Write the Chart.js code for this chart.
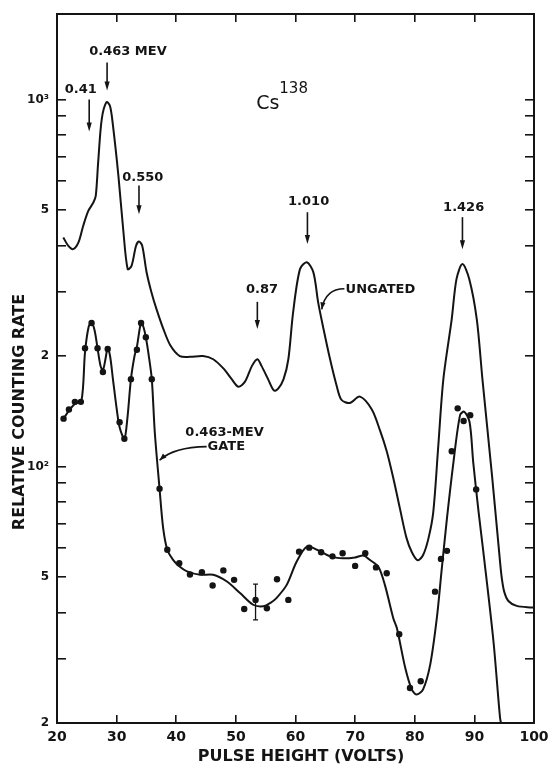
<!DOCTYPE html>
<html>
<head>
<meta charset="utf-8">
<script src="https://cdn.jsdelivr.net/npm/chart.js@4.4.1/dist/chart.umd.min.js"></script>
<style>
  html, body { margin: 0; padding: 0; background: #fff; }
  #wrap { width: 550px; height: 765px; }
</style>
</head>
<body>
<div id="wrap"><canvas id="cs-chart" width="550" height="765"></canvas></div>
<script>
'use strict';

// ungated spectrum (pulse height in volts, relative counting rate)
const ungatedVolts = [21.05, 21.9, 22.7, 23.6, 24.4, 25.25, 26.1, 26.5, 26.9, 27.5, 28.3, 28.9, 29.4, 30.3, 31.1, 31.85, 32.5, 33.25, 33.75, 34.3, 35.0, 35.8, 36.7, 37.8, 39.0, 40.6, 42.3, 44.5, 46.2, 47.9, 49.3, 50.4, 51.5, 52.7, 53.6, 54.3, 55.4, 56.4, 57.1, 58.0, 58.8, 59.6, 60.75, 61.9, 63.0, 63.8, 64.7, 65.8, 66.9, 67.7, 69.1, 70.8, 72.8, 74.2, 75.3, 76.4, 77.5, 78.6, 79.5, 80.5, 81.4, 82.3, 83.1, 83.95, 84.8, 86.2, 87.0, 88.0, 89.15, 90.4, 91.35, 93.0, 94.35, 94.6, 95.0, 95.7, 97.1, 99.6, 100];
const ungatedRate = [421, 399, 391, 408, 453, 497, 524, 546, 673, 883, 984, 959, 846, 619, 443, 345, 352, 399, 410, 399, 340, 300, 268, 238, 214, 200, 199, 200, 196, 185, 173, 165, 170, 188, 196, 188, 173, 161, 163, 173, 196, 263, 345, 360, 338, 280, 237, 196, 166, 152, 149, 155, 143, 125, 110, 93, 77, 64, 58.5, 55.5, 57.4, 63.7, 75, 114, 173, 252, 324, 356, 324, 252, 173, 93, 54, 49.6, 45.6, 43.0, 41.7, 41.3, 41.3];

// 0.463-MeV gated spectrum: drawn curve
const gatedCurveVolts = [21.1, 22.0, 23.0, 24.1, 24.7, 25.3, 25.8, 26.3, 26.8, 27.3, 27.7, 28.1, 28.5, 28.9, 29.4, 30.0, 30.5, 31.3, 31.8, 32.4, 33.0, 33.4, 34.1, 34.5, 34.9, 35.4, 35.9, 36.4, 37.2, 37.8, 38.5, 39.5, 40.5, 41.8, 44.0, 46.2, 48.5, 50.7, 52.9, 54.6, 55.8, 56.8, 58.5, 60.2, 61.9, 63.6, 65.8, 68.0, 70.0, 71.4, 72.5, 73.9, 75.0, 76.4, 77.0, 78.4, 79.5, 80.3, 81.4, 82.6, 83.7, 84.5, 85.4, 86.5, 87.6, 88.3, 89.2, 89.8, 90.7, 91.5, 93.2, 94.3, 94.6];
const gatedCurveRate = [135, 142, 148, 151, 205, 240, 247, 235, 210, 188, 183, 195, 210, 200, 172, 144, 128, 119, 135, 173, 200, 212, 247, 240, 225, 200, 173, 124, 87, 68, 59.3, 55.6, 53.5, 51.8, 50.7, 50.7, 48.6, 45.2, 42.0, 41.6, 42.5, 43.8, 47.5, 55.1, 60.5, 59.3, 56.9, 56.2, 56.5, 57.2, 55.6, 53.3, 47.5, 38.6, 36.3, 28.3, 24.7, 23.9, 24.7, 28.9, 38.6, 52, 72.2, 103, 138, 141, 132, 103, 75.3, 58.6, 33.4, 20.7, 19.5];

// 0.463-MeV gated spectrum: measured points
const gatedPointVolts = [21.1, 22.0, 23.0, 24.0, 24.7, 25.8, 26.8, 27.7, 28.5, 30.5, 31.3, 32.4, 33.4, 34.1, 34.9, 35.9, 37.2, 38.5, 40.5, 42.3, 44.3, 46.1, 47.9, 49.7, 51.4, 53.3, 55.2, 56.9, 58.8, 60.6, 62.3, 64.3, 66.2, 67.9, 70.0, 71.7, 73.5, 75.3, 77.4, 79.2, 81.0, 83.4, 84.4, 85.4, 86.2, 87.2, 88.2, 89.3, 90.3];
const gatedPointRate = [135, 143, 150, 150, 210, 246, 210, 181, 209, 132, 119, 173, 208, 246, 225, 173, 87, 59.3, 54.5, 50.8, 51.5, 47.4, 52.1, 49.1, 40.9, 43.3, 41.1, 49.3, 43.3, 58.6, 60.1, 58.4, 56.9, 58, 53.6, 58, 53.1, 51.2, 34.9, 24.9, 26.0, 45.6, 56.0, 58.9, 110, 144, 133, 138, 86.6];

// single error bar
const errorVolts = [53.3];
const errorLow = [38.2];
const errorHigh = [47.8];

// axes
const xTickValues = [20, 30, 40, 50, 60, 70, 80, 90, 100];
const yTickValues = [20, 30, 40, 50, 60, 70, 80, 90, 100, 200, 300, 400, 500, 600, 700, 800, 900, 1000];
const yRightTickValues = [30, 40, 50, 60, 70, 80, 90, 100, 200, 300, 400, 500, 600, 700, 800, 900, 1000];
const yLabelValues = [20, 50, 100, 200, 500, 1000];
const yLabelTexts = ['2', '5', '10²', '2', '5', '10³'];

// gamma-line markers
const markerTexts = ['0.41', '0.463 MEV', '0.550', '0.87', '1.010', '1.426'];
const markerTextVolts = [24.0, 31.9, 34.4, 54.4, 62.2, 88.2];
const markerTextRate = [1064, 1349, 614, 303, 527, 506];
const markerVolts = [25.4, 28.4, 33.75, 53.6, 62.0, 88.0];
const markerTopRate = [1000, 1261, 583, 281, 493, 478];
const markerTipRate = [818, 1058, 487, 237, 404, 391];

const INK = '#141414';
const FONT = '"DejaVu Sans", "Liberation Sans", sans-serif';

function arrowHead(ctx, x, y, angle, len, half) {
  ctx.save();
  ctx.translate(x, y);
  ctx.rotate(angle);
  ctx.beginPath();
  ctx.moveTo(0, 0);
  ctx.lineTo(-len, -half);
  ctx.lineTo(-len, half);
  ctx.closePath();
  ctx.fill();
  ctx.restore();
}

function pointer(ctx, p0, c, p1) {
  ctx.beginPath();
  ctx.moveTo(p0[0], p0[1]);
  ctx.quadraticCurveTo(c[0], c[1], p1[0], p1[1]);
  ctx.stroke();
  arrowHead(ctx, p1[0], p1[1], Math.atan2(p1[1] - c[1], p1[0] - c[0]), 7, 2.6);
}

const annotationPlugin = {
  id: 'annotations',
  afterDraw(chart) {
    const ctx = chart.ctx;
    const px = v => chart.scales.x.getPixelForValue(v);
    const py = v => chart.scales.y.getPixelForValue(v);
    ctx.save();
    ctx.fillStyle = INK;
    ctx.strokeStyle = INK;
    ctx.lineWidth = 1.6;

    // peak markers
    ctx.font = 'bold 13px ' + FONT;
    ctx.textAlign = 'center';
    ctx.textBaseline = 'middle';
    markerTexts.forEach((t, i) => {
      ctx.fillText(t, px(markerTextVolts[i]), py(markerTextRate[i]));
      const x = px(markerVolts[i]);
      const tip = py(markerTipRate[i]);
      ctx.beginPath();
      ctx.moveTo(x, py(markerTopRate[i]));
      ctx.lineTo(x, tip - 5);
      ctx.stroke();
      arrowHead(ctx, x, tip, Math.PI / 2, 9, 2.6);
    });

    // isotope label
    ctx.textAlign = 'left';
    ctx.textBaseline = 'alphabetic';
    ctx.font = '19px ' + FONT;
    const csX = px(53.4), csY = py(940);
    ctx.fillText('Cs', csX, csY);
    const csW = ctx.measureText('Cs').width;
    ctx.font = '15px ' + FONT;
    ctx.fillText('138', csX + csW, py(1040));

    // curve labels
    ctx.font = 'bold 13px ' + FONT;
    ctx.textBaseline = 'middle';
    ctx.fillText('UNGATED', px(68.4), py(303));
    pointer(ctx, [px(68.2), py(305)], [px(65.0), py(305)], [px(64.4), py(268)]);
    ctx.textAlign = 'center';
    ctx.fillText('0.463-MEV', px(48.1), py(124));
    ctx.fillText('GATE', px(48.4), py(113));
    pointer(ctx, [px(45.1), py(113.3)], [px(39.6), py(113)], [px(37.2), py(104)]);

    // error bar
    ctx.lineWidth = 1.3;
    errorVolts.forEach((v, i) => {
      const x = px(v), y0 = py(errorLow[i]), y1 = py(errorHigh[i]);
      ctx.beginPath();
      ctx.moveTo(x, y0); ctx.lineTo(x, y1);
      ctx.moveTo(x - 2.5, y0); ctx.lineTo(x + 2.5, y0);
      ctx.moveTo(x - 2.5, y1); ctx.lineTo(x + 2.5, y1);
      ctx.stroke();
    });

    // axis titles
    ctx.font = 'bold 16px ' + FONT;
    ctx.textAlign = 'center';
    ctx.fillText('PULSE HEIGHT (VOLTS)', 301, 757);
    ctx.translate(20, 412);
    ctx.rotate(-Math.PI / 2);
    ctx.fillText('RELATIVE COUNTING RATE', 0, 0);
    ctx.restore();
  },
};

const toPoints = (xs, ys) => xs.map((v, i) => ({ x: v, y: ys[i] }));

const frameGrid = (len) => ({
  display: true,
  drawOnChartArea: false,
  drawTicks: true,
  tickLength: len,
  color: INK,
  lineWidth: 1.6,
});
const frameBorder = { display: true, color: INK, width: 2 };

// fixed axis box, no label overhang padding
const fixBox = (w, h) => s => {
  if (w !== null) s.width = w;
  if (h !== null) s.height = h;
  s.paddingTop = 0; s.paddingBottom = 0; s.paddingLeft = 0; s.paddingRight = 0;
};

const curveStyle = {
  showLine: true,
  borderColor: INK,
  borderWidth: 2,
  pointRadius: 0,
  tension: 0.3,
};

const chart = new Chart(document.getElementById('cs-chart'), {
  type: 'scatter',
  data: {
    datasets: [
      Object.assign({ label: 'Ungated', data: toPoints(ungatedVolts, ungatedRate) }, curveStyle),
      Object.assign({ label: '0.463-MeV gate', data: toPoints(gatedCurveVolts, gatedCurveRate) }, curveStyle),
      {
        label: '0.463-MeV gate points',
        data: toPoints(gatedPointVolts, gatedPointRate),
        showLine: false,
        pointRadius: 3.2,
        pointBackgroundColor: INK,
        pointBorderWidth: 0,
      },
    ],
  },
  options: {
    responsive: false,
    animation: false,
    events: [],
    layout: { padding: { top: 14, right: 16, left: 0, bottom: 0 } },
    plugins: {
      legend: { display: false },
      tooltip: { enabled: false },
    },
    scales: {
      x: {
        type: 'linear',
        position: 'bottom',
        min: 20,
        max: 100,
        bounds: 'data',
        afterBuildTicks: s => { s.ticks = xTickValues.map(v => ({ value: v })); },
        afterFit: fixBox(null, 42),
        grid: frameGrid(-8),
        border: frameBorder,
        ticks: {
          autoSkip: false,
          maxRotation: 0,
          padding: 14,
          color: INK,
          font: { family: FONT, size: 14, weight: 'bold' },
          callback: v => String(v),
        },
      },
      x2: {
        type: 'linear',
        position: 'top',
        min: 20,
        max: 100,
        bounds: 'data',
        afterBuildTicks: s => { s.ticks = xTickValues.slice(1, -1).map(v => ({ value: v })); },
        afterFit: fixBox(null, 0),
        grid: frameGrid(-8),
        border: frameBorder,
        ticks: { display: false },
      },
      y: {
        type: 'logarithmic',
        position: 'left',
        min: 20,
        max: 1710,
        bounds: 'data',
        afterBuildTicks: s => { s.ticks = yTickValues.map(v => ({ value: v })); },
        afterFit: fixBox(57, null),
        grid: frameGrid(-9),
        border: frameBorder,
        ticks: {
          autoSkip: false,
          padding: 17,
          color: INK,
          font: { family: FONT, size: 12, weight: 'bold' },
          callback: v => {
            const k = yLabelValues.indexOf(v);
            return k >= 0 ? yLabelTexts[k] : '';
          },
        },
      },
      y2: {
        type: 'logarithmic',
        position: 'right',
        min: 20,
        max: 1710,
        bounds: 'data',
        afterBuildTicks: s => { s.ticks = yRightTickValues.map(v => ({ value: v })); },
        afterFit: fixBox(0, null),
        grid: frameGrid(-9),
        border: frameBorder,
        ticks: { display: false },
      },
    },
  },
  plugins: [annotationPlugin],
});
</script>
</body>
</html>
